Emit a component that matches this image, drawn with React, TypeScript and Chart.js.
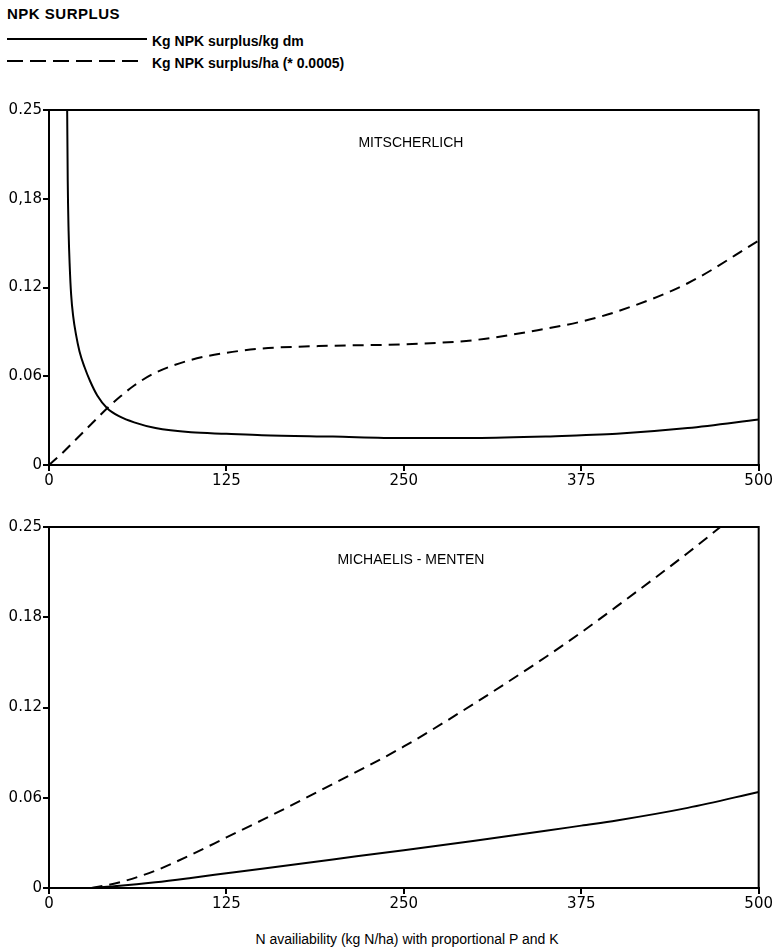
import React, { useEffect, useRef } from "react";
import { Chart, registerables } from "chart.js";

Chart.register(...registerables);

// Axis ticks (quarter steps of the 0–0.25 range, labelled with two decimals)
const xTicks = [0, 125, 250, 375, 500];
const yTicks = [0, 0.0625, 0.125, 0.1875, 0.25];
const yLabelsTop = ["0", "0.06", "0.12", "0,18", "0.25"];
const yLabelsBottom = ["0", "0.06", "0.12", "0.18", "0.25"];

// Mitscherlich: kg NPK surplus per kg dry matter
const mitDmN = [12.8, 13.2, 13.8, 14.6, 15.6, 17, 19, 21.5, 25, 29, 34, 41, 50, 60, 75, 100, 125, 150, 200, 250, 300, 350, 375, 400, 450, 500];
const mitDmSurplus = [0.25, 0.2, 0.165, 0.14, 0.12, 0.105, 0.092, 0.08, 0.069, 0.059, 0.049, 0.04, 0.034, 0.03, 0.026, 0.023, 0.022, 0.021, 0.02, 0.019, 0.019, 0.02, 0.021, 0.022, 0.026, 0.032];

// Mitscherlich: kg NPK surplus per ha (* 0.0005)
const mitHaN = [0, 10, 20, 30, 41, 50, 60, 75, 100, 125, 150, 200, 250, 300, 350, 375, 400, 450, 500];
const mitHaSurplus = [0, 0.009, 0.019, 0.029, 0.04, 0.048, 0.056, 0.065, 0.074, 0.079, 0.082, 0.084, 0.085, 0.088, 0.096, 0.101, 0.108, 0.128, 0.158];

// Michaelis-Menten: kg NPK surplus per kg dry matter
const mmDmN = [30, 50, 75, 100, 125, 150, 200, 250, 300, 350, 375, 400, 450, 500];
const mmDmSurplus = [0, 0.0015, 0.004, 0.007, 0.0102, 0.0134, 0.0198, 0.0262, 0.0328, 0.0396, 0.0432, 0.0468, 0.0555, 0.0665];

// Michaelis-Menten: kg NPK surplus per ha (* 0.0005)
const mmHaN = [30, 50, 75, 100, 125, 150, 200, 250, 300, 350, 375, 400, 450, 473];
const mmHaSurplus = [0, 0.004, 0.012, 0.023, 0.035, 0.047, 0.072, 0.098, 0.128, 0.16, 0.177, 0.195, 0.232, 0.25];

const FONT = "'Liberation Sans', Arial, Helvetica, sans-serif";
const TICK_FONT = "'DejaVu Sans', 'Liberation Sans', sans-serif";
const DASH = [11, 7];

const pairs = (xs: number[], ys: number[]) => xs.map((x, i) => ({ x, y: ys[i] }));

type PanelProps = {
  top: number;
  height: number;
  title: string;
  yLabels: string[];
  dm: { x: number; y: number }[];
  ha: { x: number; y: number }[];
};

function Panel({ top, height, title, yLabels, dm, ha }: PanelProps) {
  const ref = useRef<HTMLCanvasElement | null>(null);

  useEffect(() => {
    if (!ref.current) return;

    // closed box around the plotting area
    const framePlugin = {
      id: "frame",
      afterDraw(chart: any) {
        const { ctx, chartArea } = chart;
        ctx.save();
        ctx.strokeStyle = "#000";
        ctx.lineWidth = 2;
        ctx.strokeRect(chartArea.left, chartArea.top, chartArea.right - chartArea.left, chartArea.bottom - chartArea.top);
        ctx.restore();
      },
    };

    // model name written inside the panel
    const titlePlugin = {
      id: "panelTitle",
      afterDatasetsDraw(chart: any) {
        const { ctx, scales } = chart;
        ctx.save();
        ctx.fillStyle = "#000";
        ctx.font = `14px ${FONT}`;
        ctx.textAlign = "center";
        ctx.textBaseline = "middle";
        ctx.fillText(title, scales.x.getPixelForValue(255), scales.y.getPixelForValue(0.227));
        ctx.restore();
      },
    };

    const tickFont = { family: TICK_FONT, size: 15 };

    const chart = new Chart(ref.current, {
      type: "line",
      data: {
        datasets: [
          {
            label: "Kg NPK surplus/kg dm",
            data: dm,
            borderColor: "#000",
            borderWidth: 2,
            pointRadius: 0,
            cubicInterpolationMode: "monotone",
            fill: false,
          },
          {
            label: "Kg NPK surplus/ha (* 0.0005)",
            data: ha,
            borderColor: "#000",
            borderWidth: 2,
            borderDash: DASH,
            pointRadius: 0,
            cubicInterpolationMode: "monotone",
            fill: false,
          },
        ],
      },
      options: {
        responsive: false,
        animation: false,
        devicePixelRatio: 1,
        layout: { padding: { top: 10, right: 14, left: 0, bottom: 0 } },
        plugins: { legend: { display: false }, tooltip: { enabled: false } },
        scales: {
          x: {
            type: "linear",
            min: 0,
            max: 500,
            afterBuildTicks: (s: any) => {
              s.ticks = xTicks.map((v) => ({ value: v }));
            },
            afterFit: (s: any) => {
              s.height = 30;
            },
            ticks: {
              color: "#000",
              font: tickFont,
              padding: 1,
              maxRotation: 0,
              autoSkip: false,
              callback: (v: any) => String(v),
            },
            grid: { display: true, drawOnChartArea: false, drawTicks: true, tickLength: 6, color: "#000", lineWidth: 2 },
            border: { display: true, color: "#000", width: 2 },
          },
          y: {
            type: "linear",
            min: 0,
            max: 0.25,
            afterBuildTicks: (s: any) => {
              s.ticks = yTicks.map((v) => ({ value: v }));
            },
            afterFit: (s: any) => {
              s.width = 49;
            },
            ticks: {
              color: "#000",
              font: tickFont,
              padding: 1,
              autoSkip: false,
              callback: (_v: any, i: number) => yLabels[i],
            },
            grid: { display: true, drawOnChartArea: false, drawTicks: true, tickLength: 6, color: "#000", lineWidth: 2 },
            border: { display: true, color: "#000", width: 2 },
          },
        },
      } as any,
      plugins: [framePlugin, titlePlugin],
    });

    return () => chart.destroy();
  }, [title, yLabels, dm, ha]);

  return (
    <canvas
      ref={ref}
      width={774}
      height={height}
      style={{ position: "absolute", left: 0, top, width: 774, height }}
    />
  );
}

const legendText: React.CSSProperties = {
  position: "absolute",
  left: 152,
  fontFamily: FONT,
  fontWeight: "bold",
  fontSize: 14,
  lineHeight: "16px",
  color: "#000",
  whiteSpace: "nowrap",
};

export default function App() {
  return (
    <div style={{ position: "absolute", left: 0, top: 0, width: 774, height: 949, background: "#fff", overflow: "hidden" }}>
      <div style={{ ...legendText, left: 7, top: 6, fontSize: 15, letterSpacing: 0.5 }}>NPK SURPLUS</div>
      <svg style={{ position: "absolute", left: 0, top: 0 }} width={160} height={80}>
        <line x1={7} y1={39} x2={147} y2={39} stroke="#000" strokeWidth={2} />
        <line x1={7} y1={61} x2={145} y2={61} stroke="#000" strokeWidth={2} strokeDasharray="16 7" />
      </svg>
      <div style={{ ...legendText, top: 33 }}>Kg NPK surplus/kg dm</div>
      <div style={{ ...legendText, top: 55 }}>Kg NPK surplus/ha (* 0.0005)</div>

      <Panel
        top={100}
        height={395}
        title="MITSCHERLICH"
        yLabels={yLabelsTop}
        dm={pairs(mitDmN, mitDmSurplus)}
        ha={pairs(mitHaN, mitHaSurplus)}
      />
      <Panel
        top={517}
        height={401}
        title="MICHAELIS - MENTEN"
        yLabels={yLabelsBottom}
        dm={pairs(mmDmN, mmDmSurplus)}
        ha={pairs(mmHaN, mmHaSurplus)}
      />

      <div
        style={{
          position: "absolute",
          left: 0,
          width: 814,
          top: 931,
          textAlign: "center",
          fontFamily: FONT,
          fontSize: 14,
          lineHeight: "16px",
          color: "#000",
          whiteSpace: "nowrap",
        }}
      >
        N availiability (kg N/ha) with proportional P and K
      </div>
    </div>
  );
}
